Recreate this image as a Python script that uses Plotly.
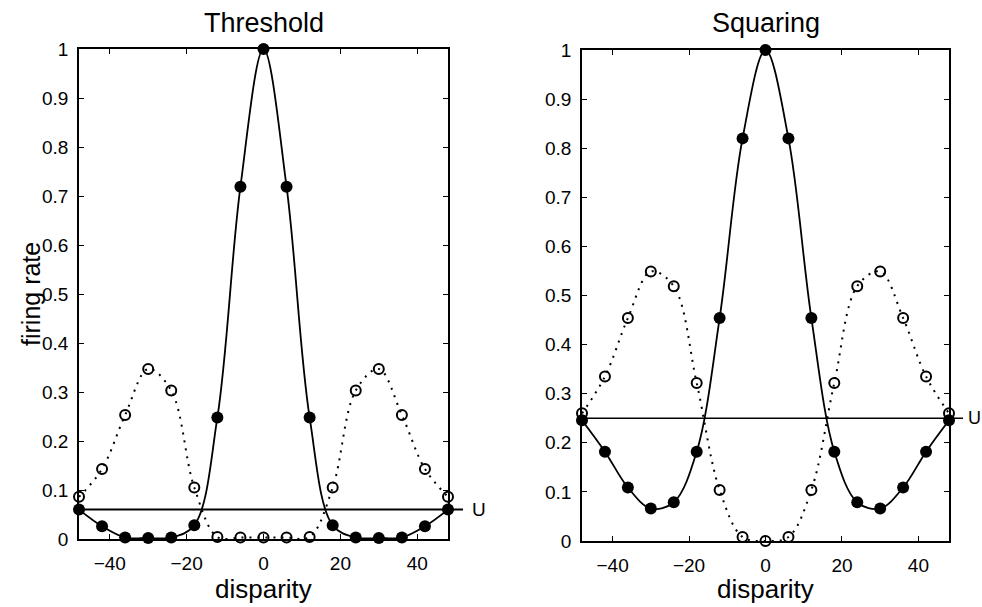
import plotly.graph_objects as go

# disparity samples shared by both panels
disparity = [-48, -42, -36, -30, -24, -18, -12, -6, 0, 6, 12, 18, 24, 30, 36, 42, 48]

# Threshold model
thr_filled = [0.060, 0.026, 0.003, 0.002, 0.003, 0.028, 0.248, 0.719, 1.0,
              0.719, 0.248, 0.028, 0.003, 0.002, 0.003, 0.026, 0.060]
thr_open = [0.086, 0.143, 0.253, 0.347, 0.303, 0.105, 0.004, 0.003, 0.003,
            0.003, 0.004, 0.105, 0.303, 0.347, 0.253, 0.143, 0.086]
thr_u = 0.06

# Squaring model
sq_filled = [0.246, 0.182, 0.109, 0.066, 0.079, 0.182, 0.454, 0.820, 1.0,
             0.820, 0.454, 0.182, 0.079, 0.066, 0.109, 0.182, 0.246]
sq_open = [0.260, 0.335, 0.454, 0.549, 0.519, 0.322, 0.104, 0.008, 0.0,
           0.008, 0.104, 0.322, 0.519, 0.549, 0.454, 0.335, 0.260]
sq_u = 0.25

y_ticks = [0, 0.1, 0.2, 0.3, 0.4, 0.5, 0.6, 0.7, 0.8, 0.9, 1]
y_labels = ["0", "0.1", "0.2", "0.3", "0.4", "0.5", "0.6", "0.7", "0.8", "0.9", "1"]
x_ticks = [-40, -20, 0, 20, 40]

FONT = "Liberation Sans, Arial, Helvetica, sans-serif"
W, H = 982, 607

fig = go.Figure()

def add_panel(xa, ya, filled, hollow):
    fig.add_trace(go.Scatter(
        x=disparity, y=hollow, xaxis=xa, yaxis=ya, mode="lines+markers",
        line=dict(color="black", width=2, shape="spline", smoothing=1.0, dash="2px,6px"),
        marker=dict(symbol="circle-open", size=10, color="black", line=dict(width=2)),
        cliponaxis=False, hoverinfo="skip"))
    fig.add_trace(go.Scatter(
        x=disparity, y=filled, xaxis=xa, yaxis=ya, mode="lines+markers",
        line=dict(color="black", width=1.8, shape="spline", smoothing=1.0),
        marker=dict(symbol="circle", size=12, color="black"),
        cliponaxis=False, hoverinfo="skip"))

add_panel("x", "y", thr_filled, thr_open)
add_panel("x2", "y2", sq_filled, sq_open)

axis_common = dict(
    showline=True, linecolor="black", linewidth=1.5, mirror="ticks",
    ticks="inside", ticklen=5, tickwidth=1, tickcolor="black",
    showgrid=False, zeroline=False, automargin=False,
    tickfont=dict(family=FONT, size=19, color="black"),
)

left_x = [79 / W, 448 / W]
right_x = [582 / W, 949 / W]
left_y = [1 - 539 / H, 1 - 49 / H]
right_y = [1 - 541 / H, 1 - 50 / H]

fig.update_layout(
    template="none",
    width=W, height=H,
    margin=dict(l=0, r=0, t=0, b=0, pad=0),
    paper_bgcolor="white", plot_bgcolor="white",
    showlegend=False,
    xaxis=dict(domain=left_x, range=[-48, 48], tickvals=x_ticks, anchor="y",
               ticklabelstandoff=6, **axis_common),
    yaxis=dict(domain=left_y, range=[0, 1], tickvals=y_ticks, ticktext=y_labels,
               anchor="x", ticklabelstandoff=5, **axis_common),
    xaxis2=dict(domain=right_x, range=[-48, 48], tickvals=x_ticks, anchor="y2",
                ticklabelstandoff=6, **axis_common),
    yaxis2=dict(domain=right_y, range=[0, 1], tickvals=y_ticks, ticktext=y_labels,
                anchor="x2", ticklabelstandoff=5, **axis_common),
)

# level U, running past the right edge of each panel
fig.add_shape(type="line", xref="paper", yref="y", x0=left_x[0], x1=463 / W,
              y0=thr_u, y1=thr_u, line=dict(color="black", width=2))
fig.add_shape(type="line", xref="paper", yref="y2", x0=right_x[0], x1=963 / W,
              y0=sq_u, y1=sq_u, line=dict(color="black", width=1.3))

ann_font = dict(family=FONT, color="black")
fig.add_annotation(text="U", xref="paper", yref="y", x=470 / W, y=thr_u,
                   xanchor="left", yanchor="middle", showarrow=False,
                   font=dict(size=19, **ann_font))
fig.add_annotation(text="U", xref="paper", yref="y2", x=966 / W, y=sq_u,
                   xanchor="left", yanchor="middle", showarrow=False,
                   font=dict(size=18, **ann_font))

# panel titles
fig.add_annotation(text="Threshold", xref="paper", yref="paper",
                   x=sum(left_x) / 2, y=1 - 23 / H, xanchor="center", yanchor="middle",
                   showarrow=False, font=dict(size=27, **ann_font))
fig.add_annotation(text="Squaring", xref="paper", yref="paper",
                   x=sum(right_x) / 2, y=1 - 23 / H, xanchor="center", yanchor="middle",
                   showarrow=False, font=dict(size=27, **ann_font))

# axis titles
for cx in (sum(left_x) / 2, sum(right_x) / 2):
    fig.add_annotation(text="disparity", xref="paper", yref="paper",
                       x=cx, y=1 - 589 / H, xanchor="center", yanchor="middle",
                       showarrow=False, font=dict(size=26, **ann_font))
fig.add_annotation(text="firing rate", xref="paper", yref="paper",
                   x=31 / W, y=1 - 294 / H, xanchor="center", yanchor="middle",
                   textangle=-90, showarrow=False, font=dict(size=25, **ann_font))

fig.write_html("out.html")
